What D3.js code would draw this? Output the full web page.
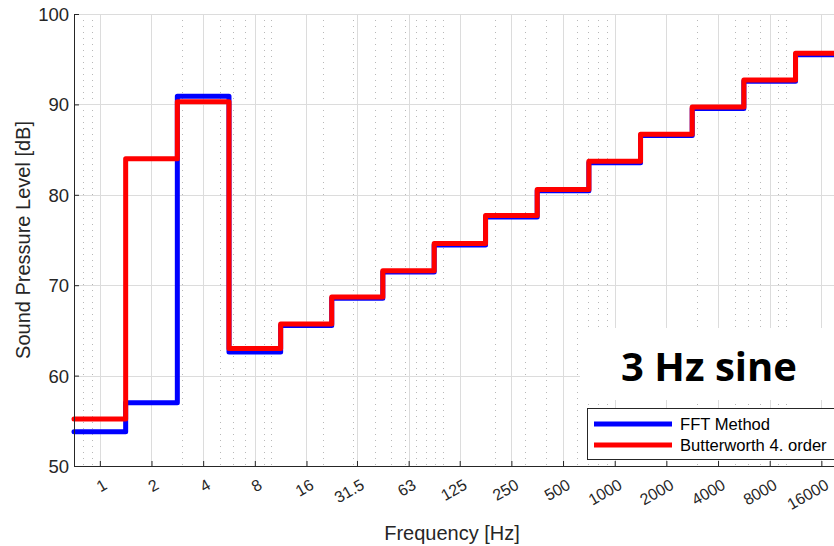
<!DOCTYPE html>
<html>
<head>
<meta charset="utf-8">
<script src="https://cdn.jsdelivr.net/npm/d3@7"></script>
<style>
  html, body { margin: 0; padding: 0; background: #fff; overflow: hidden; }
  svg { display: block; }
</style>
</head>
<body>
<svg id="chart" width="834" height="546"></svg>
<script>
// ---------------- data ----------------
const bandCenters = [1, 2, 4, 8, 16, 31.5, 63, 125, 250, 500, 1000, 2000, 4000, 8000, 16000];
const xTickValues = [1, 2, 4, 8, 16, 31.5, 63, 125, 250, 500, 1000, 2000, 4000, 8000, 16000];
const xTickLabels = ["1", "2", "4", "8", "16", "31.5", "63", "125", "250", "500", "1000", "2000", "4000", "8000", "16000"];
const yTickValues = [50, 60, 70, 80, 90, 100];
const fftValues = [53.8, 57.0, 90.9, 62.6, 65.55, 68.55, 71.45, 74.45, 77.55, 80.45, 83.55, 86.55, 89.55, 92.55, 95.5];
const butterValues = [55.2, 84.0, 90.3, 63.0, 65.7, 68.7, 71.6, 74.6, 77.7, 80.6, 83.7, 86.7, 89.7, 92.7, 95.65];
const seriesNames = ["FFT Method", "Butterworth 4. order"];
const seriesColors = ["#0000ff", "#ff0000"];
const annotationText = "3 Hz sine";
const xLabel = "Frequency [Hz]";
const yLabel = "Sound Pressure Level [dB]";

(function () {
// ---------------- layout ----------------
const svg = d3.select("#chart");
const pLeft = 74, pRight = 838, pTop = 14, pBottom = 466;
const axisColor = "#262626";
const fontMain = "'Liberation Sans', Arial, Helvetica, sans-serif";

const x = d3.scaleLog().domain([Math.SQRT1_2, 20000]).range([pLeft, pRight]);
const y = d3.scaleLinear().domain([50, 100]).range([pBottom, pTop]);

// minor grid (log decades 1..9)
const minorVals = [];
for (let e = -1; e <= 4; e++) {
  for (let d = 1; d <= 9; d++) {
    const v = d * Math.pow(10, e);
    if (v > x.domain()[0] && v < x.domain()[1] && !xTickValues.includes(v)) minorVals.push(v);
  }
}

const grid = svg.append("g");
grid.selectAll("line.minor").data(minorVals).enter().append("line")
  .attr("class", "minor")
  .attr("x1", d => Math.round(x(d)) + 0.5).attr("x2", d => Math.round(x(d)) + 0.5)
  .attr("y1", pTop).attr("y2", pBottom)
  .attr("stroke", "#b8b8b8").attr("stroke-width", 1)
  .attr("stroke-dasharray", "1,5");

grid.selectAll("line.majx").data(xTickValues).enter().append("line")
  .attr("x1", d => Math.round(x(d)) + 0.5).attr("x2", d => Math.round(x(d)) + 0.5)
  .attr("y1", pTop).attr("y2", pBottom)
  .attr("stroke", "#dcdcdc").attr("stroke-width", 1);

grid.selectAll("line.majy").data(yTickValues).enter().append("line")
  .attr("x1", pLeft).attr("x2", 834)
  .attr("y1", d => Math.round(y(d)) + 0.5).attr("y2", d => Math.round(y(d)) + 0.5)
  .attr("stroke", "#dcdcdc").attr("stroke-width", 1);

// ---------------- step lines ----------------
function stepPoints(vals) {
  const pts = [];
  vals.forEach((v, i) => {
    const lo = i === 0 ? bandCenters[0] * Math.SQRT1_2 : Math.sqrt(bandCenters[i - 1] * bandCenters[i]);
    pts.push([lo, v]);
  });
  pts.push([bandCenters[bandCenters.length - 1] * Math.SQRT2, vals[vals.length - 1]]);
  return pts;
}
const line = d3.line().x(d => x(d[0])).y(d => y(d[1])).curve(d3.curveStepAfter);

[fftValues, butterValues].forEach((vals, i) => {
  svg.append("path")
    .attr("d", line(stepPoints(vals)))
    .attr("fill", "none")
    .attr("stroke", seriesColors[i])
    .attr("stroke-width", 5)
    .attr("stroke-linejoin", "round")
    .attr("stroke-linecap", "round");
});

// ---------------- axes ----------------
const xAxis = d3.axisBottom(x).tickValues(xTickValues).tickFormat((d, i) => xTickLabels[i])
  .tickSizeInner(-5).tickSizeOuter(0).tickPadding(0);
const gx = svg.append("g").attr("transform", `translate(0,${pBottom})`).call(xAxis);
gx.select(".domain").attr("stroke", axisColor).attr("d", `M${pLeft},0.5H834`);
gx.selectAll(".tick line").attr("stroke", axisColor);
gx.selectAll(".tick text")
  .attr("fill", axisColor)
  .style("font-family", fontMain).style("font-size", "16px")
  .attr("text-anchor", "end")
  .attr("dy", null).attr("y", null)
  .attr("transform", "translate(8,22) rotate(-30)");

const yAxis = d3.axisLeft(y).tickValues(yTickValues).tickFormat(d3.format("d"))
  .tickSizeInner(-5).tickSizeOuter(0).tickPadding(5);
const gy = svg.append("g").attr("transform", `translate(${pLeft},0)`).call(yAxis);
gy.select(".domain").attr("stroke", axisColor).attr("d", `M0.5,${pTop}V${pBottom}`);
gy.selectAll(".tick line").attr("stroke", axisColor);
gy.selectAll(".tick text")
  .attr("fill", axisColor)
  .style("font-family", fontMain).style("font-size", "18.5px")
  .attr("x", -5).attr("dy", "0.35em");

svg.append("text")
  .attr("x", (pLeft + pRight) / 2 - 4).attr("y", 540)
  .attr("text-anchor", "middle")
  .attr("fill", axisColor)
  .style("font-family", fontMain).style("font-size", "20px")
  .text(xLabel);

svg.append("text")
  .attr("transform", `translate(29.5,${(pTop + pBottom) / 2}) rotate(-90)`)
  .attr("text-anchor", "middle")
  .attr("fill", axisColor)
  .style("font-family", fontMain).style("font-size", "20px")
  .text(yLabel);

// ---------------- legend ----------------
const lg = svg.append("g");
lg.append("rect")
  .attr("x", 587.5).attr("y", 408.5).attr("width", 260).attr("height", 51)
  .attr("fill", "#fff").attr("stroke", axisColor).attr("stroke-width", 1);
seriesNames.forEach((name, i) => {
  const yy = 424 + i * 21;
  lg.append("line").attr("x1", 594).attr("x2", 672).attr("y1", yy).attr("y2", yy)
    .attr("stroke", seriesColors[i]).attr("stroke-width", 5);
  lg.append("text").attr("x", 680).attr("y", yy + 5.8)
    .attr("fill", "#000")
    .style("font-family", fontMain).style("font-size", "16.6px")
    .text(name);
});

// ---------------- annotation ----------------
svg.append("rect").attr("x", 580).attr("y", 328).attr("width", 260).attr("height", 72).attr("fill", "#fff");
svg.append("text")
  .attr("x", 709).attr("y", 381)
  .attr("text-anchor", "middle")
  .attr("fill", "#000")
  .style("font-family", "'Open Sans', sans-serif").style("font-weight", "700").style("font-size", "40px")
  .text(annotationText);
})();
</script>
</body>
</html>
